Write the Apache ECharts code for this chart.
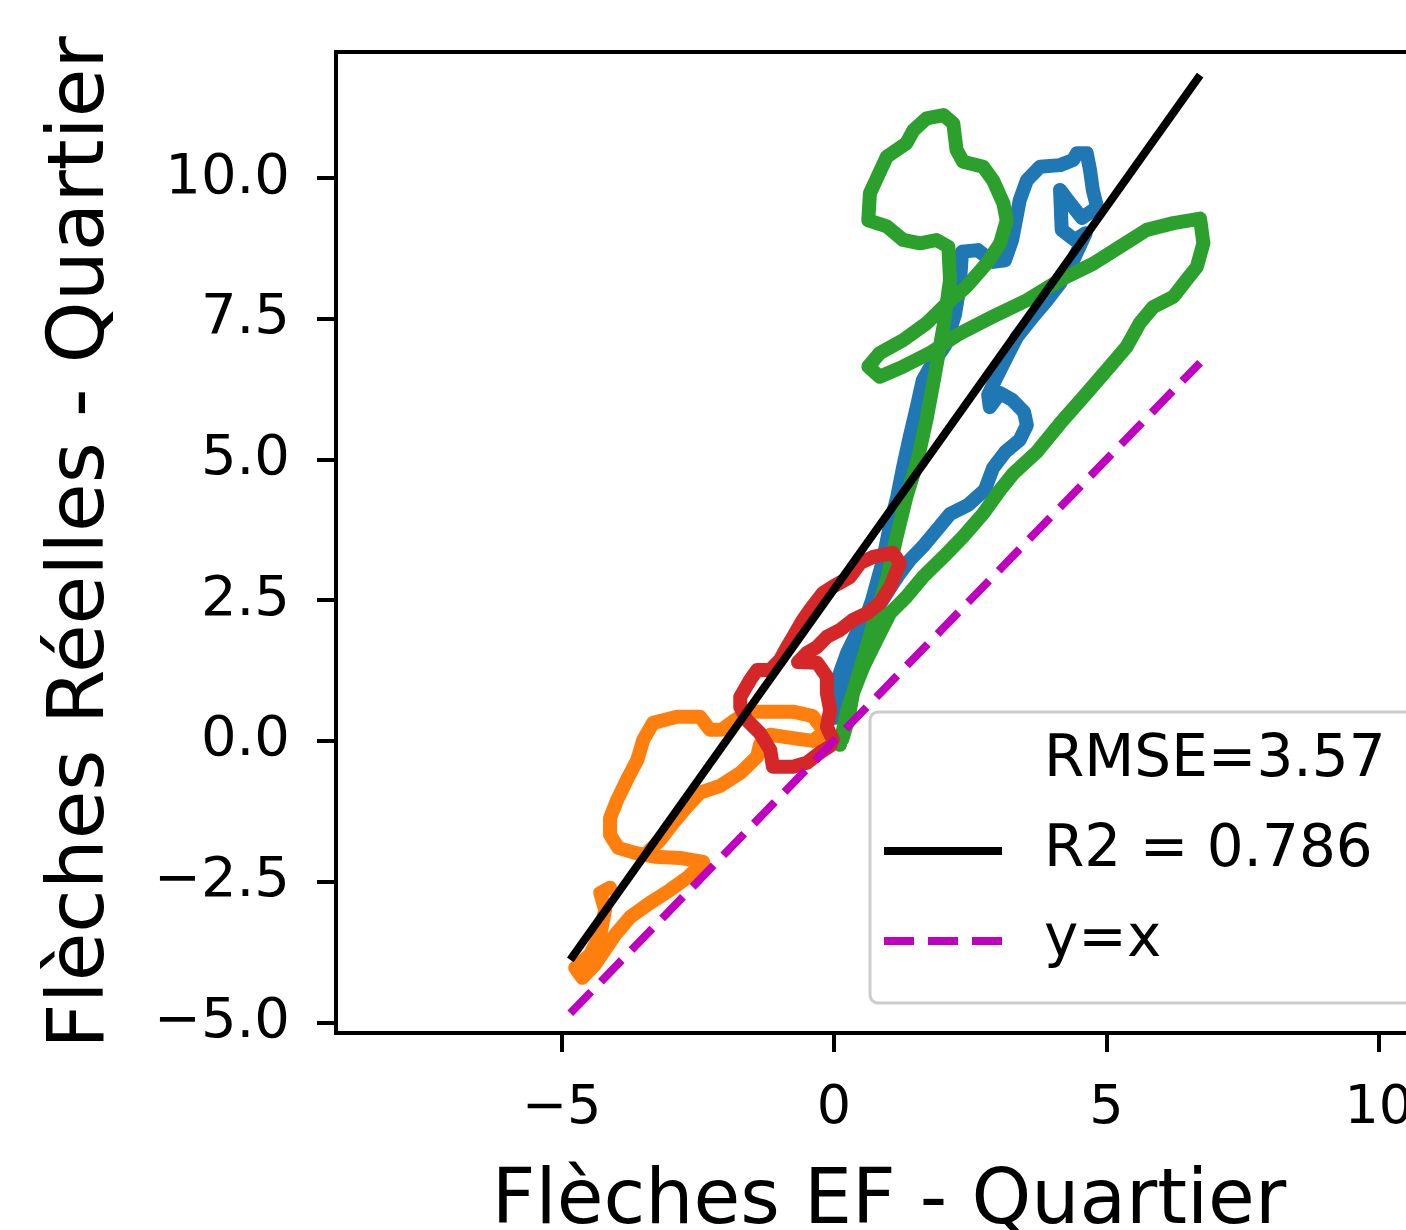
<!DOCTYPE html>
<html><head><meta charset="utf-8">
<script src="https://cdn.jsdelivr.net/npm/echarts@6/dist/echarts.min.js"></script>
<style>html,body{margin:0;padding:0;overflow:hidden;background:#fff;width:1406px;height:1230px}#c{width:1500px;height:1230px}</style>
</head><body><div id="c"></div>
<script>
// ---- data (in axis units) ----
const blueX=[0.02,0.20,0.44,0.70,0.90,1.03,1.16,1.27,1.39,1.52,1.63,1.76,2.04,2.22,2.31,2.35,2.64,2.92,3.14,3.27,3.41,3.54,3.78,4.15,4.39,4.46,4.64,4.70,4.75,4.83,4.55,4.29,4.15,4.18,4.42,4.62,4.39,4.15,3.91,3.65,3.36,3.17,2.99,2.83,2.86,3.05,3.27,3.49,3.54,3.41,3.14,2.92,2.77,2.46,2.13,1.89,1.63,1.39,1.21,1.03,0.84,0.62,0.40,0.24,0.11,0.00,-0.06,0.02];
const blueY=[0.41,1.08,1.79,2.50,3.21,3.84,4.33,4.87,5.40,5.93,6.41,6.63,7.03,7.57,8.10,8.69,8.72,8.51,8.54,8.90,9.61,9.96,10.20,10.23,10.32,10.44,10.44,10.14,9.79,9.48,9.29,9.61,9.79,9.08,8.90,9.02,8.54,8.13,7.83,7.53,7.18,6.82,6.47,6.15,5.93,6.18,6.06,5.84,5.61,5.35,5.13,4.85,4.46,4.19,4.03,3.75,3.45,3.21,2.98,2.72,2.42,2.11,1.88,1.56,1.21,0.85,0.60,0.41];
const orangeX=[-4.11,-4.29,-4.20,-4.29,-4.48,-4.75,-4.62,-4.39,-4.02,-3.74,-3.38,-3.01,-2.68,-2.40,-2.83,-3.28,-3.65,-3.96,-4.11,-4.11,-3.98,-3.80,-3.61,-3.50,-3.32,-2.88,-2.46,-2.28,-2.06,-1.82,-1.54,-1.17,-0.75,-0.39,-0.17,-0.39,-0.75,-1.17,-1.36,-1.41,-1.72,-2.09,-2.46,-2.70,-2.95,-3.19,-3.41];
const orangeY=[-2.61,-2.70,-3.00,-3.45,-3.80,-4.03,-4.21,-3.98,-3.45,-3.13,-2.88,-2.65,-2.42,-2.15,-2.08,-2.06,-1.99,-1.90,-1.67,-1.37,-1.05,-0.69,-0.34,0.02,0.32,0.43,0.43,0.20,0.20,0.37,0.52,0.52,0.52,0.44,0.16,0.00,0.05,0.11,-0.07,-0.28,-0.57,-0.80,-0.92,-1.17,-1.46,-1.76,-1.97];
const greenX=[0.11,0.23,0.42,0.60,0.78,0.97,1.15,1.33,1.52,1.70,1.85,2.01,2.13,2.10,1.88,1.58,1.27,0.97,0.63,0.66,0.97,1.33,1.46,1.70,2.01,2.19,2.25,2.37,2.74,2.92,3.11,3.17,3.05,2.80,2.43,2.07,1.70,1.27,0.84,0.63,0.84,1.27,1.76,2.31,2.92,3.54,4.15,4.76,5.25,5.74,6.23,6.72,6.78,6.66,6.47,6.23,5.86,5.61,5.37,5.06,4.64,4.15,3.72,3.29,3.05,2.74,2.37,2.01,1.64,1.33,1.03,0.78,0.54,0.35,0.26,0.15];
const greenY=[-0.07,0.49,1.08,1.67,2.27,2.86,3.63,4.34,4.93,5.72,6.50,7.36,8.19,8.78,8.90,8.84,8.90,9.14,9.25,9.73,10.38,10.62,10.85,11.06,11.12,10.97,10.50,10.29,10.20,9.96,9.55,9.25,8.84,8.48,8.07,7.77,7.42,7.12,6.89,6.65,6.47,6.65,6.89,7.24,7.54,7.83,8.19,8.48,8.78,9.08,9.20,9.28,8.84,8.42,8.19,7.89,7.71,7.42,7.00,6.65,6.18,5.64,5.13,4.75,4.46,4.04,3.63,3.27,2.92,2.56,2.27,1.79,1.32,0.85,0.37,0.02];
const redX=[-0.07,-0.26,-0.50,-0.75,-1.12,-1.17,-1.36,-1.60,-1.72,-1.72,-1.54,-1.41,-1.17,-0.99,-0.86,-0.75,-0.57,-0.44,-0.20,-0.02,0.29,0.48,0.72,1.08,1.21,1.03,0.84,0.61,0.35,0.11,-0.13,-0.31,-0.50,-0.66,-0.31,-0.13,-0.13,-0.07,-0.13,-0.02];
const redY=[-0.09,-0.21,-0.39,-0.46,-0.46,-0.16,0.14,0.37,0.60,0.78,1.08,1.26,1.26,1.44,1.67,1.85,2.15,2.33,2.63,2.74,2.91,3.16,3.27,3.34,3.16,2.74,2.45,2.27,2.15,1.97,1.85,1.67,1.56,1.40,1.39,1.14,0.85,0.55,0.25,0.02];
const fitX=[-4.84,6.72];
const fitY=[-3.89,11.83];
const identX=[-4.84,6.72];
const identY=[-4.84,6.72];
const xTicks=[-5,0,5,10];
const yTicks=[-5,-2.5,0,2.5,5,7.5,10];
const legendNames=['RMSE=3.57','R2 = 0.786','y=x'];
const xTitle='Flèches EF - Quartier';
const yTitle='Flèches Réelles - Quartier';

// ---- chart ----
const zip=(a,b)=>a.map((v,i)=>[v,b[i]]);
const F='DejaVu Sans';
const minus=s=>s.replace('-','\u2212');
const curve=(name,color,xs,ys)=>({name,type:'line',data:zip(xs,ys),symbol:'none',silent:true,
  lineStyle:{color,width:14,cap:'round',join:'round'},itemStyle:{color}});
const chart=echarts.init(document.getElementById('c'),null,{renderer:'canvas'});
chart.setOption({
  animation:false,
  backgroundColor:'#fff',
  grid:{left:336,top:52,width:1106,height:981,show:true,borderColor:'#000',borderWidth:4,containLabel:false,outerBoundsMode:'none'},
  xAxis:{type:'value',min:-9.14,max:11.16,
    axisLine:{show:false,onZero:false},splitLine:{show:false},
    axisTick:{show:true,inside:false,length:19,lineStyle:{color:'#000',width:4},customValues:xTicks},
    axisLabel:{customValues:xTicks,formatter:v=>minus(String(v)),fontSize:54,fontFamily:F,color:'#000',margin:49},
    name:xTitle,nameLocation:'middle',nameGap:132,nameTextStyle:{fontSize:76,fontFamily:F,color:'#000'}},
  yAxis:{type:'value',min:-5.19,max:12.24,
    axisLine:{show:false,onZero:false},splitLine:{show:false},
    axisTick:{show:true,inside:false,length:19,lineStyle:{color:'#000',width:4},customValues:yTicks},
    axisLabel:{customValues:yTicks,formatter:v=>minus(v.toFixed(1)),fontSize:56,fontFamily:F,color:'#000',margin:46,padding:[8,0,0,0]},
    name:yTitle,nameLocation:'middle',nameRotate:90,nameGap:214,nameTextStyle:{fontSize:79,fontFamily:F,color:'#000'}},
  legend:{left:870,top:712,orient:'vertical',itemWidth:118,itemHeight:20,itemGap:30,
    padding:[19,40,32,10],backgroundColor:'rgba(255,255,255,0.8)',borderColor:'#cccccc',borderWidth:3,borderRadius:8,
    selectedMode:false,lineStyle:{width:8},itemStyle:{opacity:0},
    textStyle:{fontSize:58,fontFamily:F,color:'#000',lineHeight:60,padding:[0,0,0,37]},
    data:[{name:legendNames[0],lineStyle:{color:'rgba(0,0,0,0)'}},legendNames[1],legendNames[2]]},
  series:[
    {name:legendNames[0],type:'line',data:[],symbol:'none',lineStyle:{color:'rgba(0,0,0,0)'},itemStyle:{color:'rgba(0,0,0,0)'}},
    curve('C0','#1f77b4',blueX,blueY),
    curve('C1','#ff7f0e',orangeX,orangeY),
    curve('C2','#2ca02c',greenX,greenY),
    curve('C3','#d62728',redX,redY),
    {name:legendNames[1],type:'line',data:zip(fitX,fitY),symbol:'none',silent:true,
      lineStyle:{color:'#000',width:8},itemStyle:{color:'#000'}},
    {name:legendNames[2],type:'line',data:zip(identX,identY),symbol:'none',silent:true,
      lineStyle:{color:'#bf00bf',width:8,type:[30,14],cap:'butt'},itemStyle:{color:'#bf00bf'}}
  ]
});
</script></body></html>
